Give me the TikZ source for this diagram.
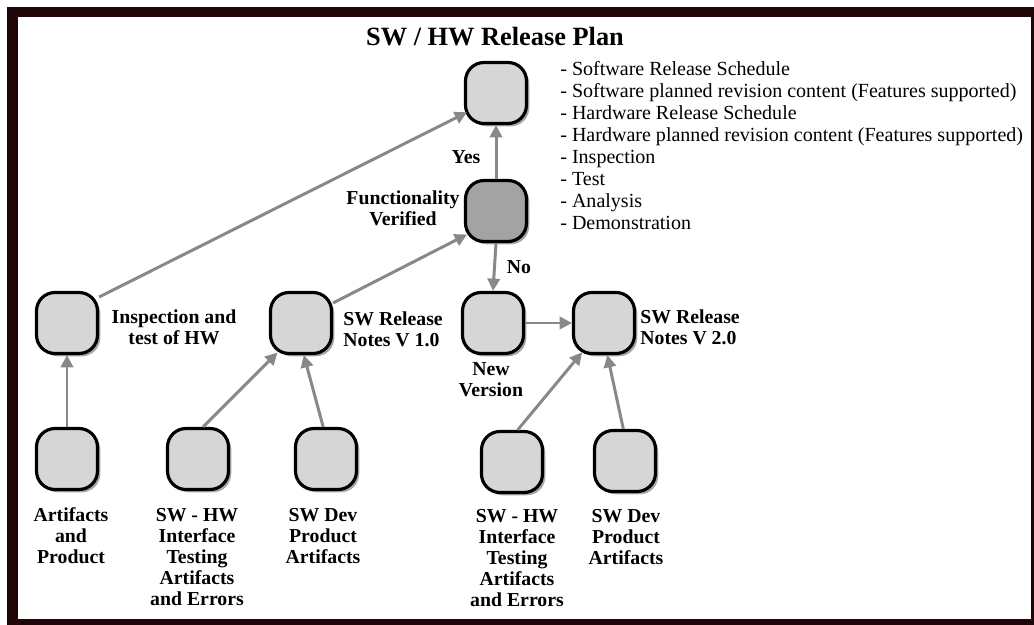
\documentclass[tikz,border=0pt]{standalone}
\usepackage{fontspec}
\setmainfont{Liberation Serif}
\usetikzlibrary{arrows.meta,shadows}
\definecolor{framecol}{HTML}{1E0508}
\definecolor{boxfill}{HTML}{D6D6D6}
\definecolor{boxdark}{HTML}{A3A3A3}
\definecolor{arrowgray}{HTML}{888888}
\tikzset{
  box/.style={draw=black, line width=1.8pt, rounded corners=10.5pt, fill=boxfill,
    minimum width=1.22cm, minimum height=1.22cm, inner sep=0pt,
    drop shadow={shadow xshift=1.6pt, shadow yshift=-1.6pt, fill=black, opacity=0.35}},
  darkbox/.style={box, fill=boxdark},
  lbl/.style={font=\fontsize{11.25}{12}\selectfont\bfseries, align=center, inner sep=0pt},
  lbll/.style={lbl, align=left},
  conn/.style={draw=arrowgray, line width=1.7pt, -{Triangle[length=7pt,width=7pt]}},
  cornerconn/.style={conn, shorten >=-2pt},
  listtext/.style={font=\fontsize{11.4}{12.5}\selectfont, align=left, inner sep=0pt, anchor=north west},
  titletext/.style={font=\fontsize{15}{17}\selectfont\bfseries, inner sep=0pt}
}
\begin{document}
\begin{tikzpicture}[x=0.02cm, y=-0.02cm]
\useasboundingbox (0,0) rectangle (1034,625);
\fill[white] (0,0) rectangle (1034,625);
\fill[framecol] (7,7) rectangle (1034,625);
\fill[white] (18,17) rectangle (1031,619);

% title and list
\node[titletext] (title) at (495,37) {SW / HW Release Plan};
\node[listtext] (list) at (560,61) {- Software Release Schedule\\
- Software planned revision content (Features supported)\\
- Hardware Release Schedule\\
- Hardware planned revision content (Features supported)\\
- Inspection\\
- Test\\
- Analysis\\
- Demonstration};

% boxes
\node[box] (top) at (496,93) {};
\node[darkbox] (func) at (496,211) {};
\node[box] (insp) at (67,323) {};
\node[box] (rel1) at (301,323) {};
\node[box] (newv) at (493,323) {};
\node[box] (rel2) at (604,323) {};
\node[box] (art) at (67,459) {};
\node[box] (sh1) at (198,459) {};
\node[box] (dev1) at (326,459) {};
\node[box] (sh2) at (512,462) {};
\node[box] (dev2) at (625,461) {};

% labels
\node[lbl] (yes) at (466,157) {Yes};
\node[lbl] (funcl) at (403,208) {Functionality\\Verified};
\node[lbl] (no) at (519,267) {No};
\node[lbl] (inspl) at (174,327) {Inspection and\\test of HW};
\node[lbll, anchor=west] (rel1l) at (343,329) {SW Release\\Notes V 1.0};
\node[lbl] (newvl) at (491,380) {New\\Version};
\node[lbll, anchor=west] (rel2l) at (640,327) {SW Release\\Notes V 2.0};
\node[lbl] (artl) at (71,536) {Artifacts\\and\\Product};
\node[lbl] (sh1l) at (197,557) {SW - HW\\Interface\\Testing\\Artifacts\\and Errors};
\node[lbl] (dev1l) at (323,536) {SW Dev\\Product\\Artifacts};
\node[lbl] (sh2l) at (517,558) {SW - HW\\Interface\\Testing\\Artifacts\\and Errors};
\node[lbl] (dev2l) at (626,537) {SW Dev\\Product\\Artifacts};

% connectors
\draw[cornerconn] (insp.39) -- (top.213);
\draw[cornerconn] (rel1.32) -- (func.218);
\draw[conn] (func.north) -- (top.south);
\draw[conn] (func.south) -- (newv.north);
\draw[conn] (art.north) -- (insp.south);
\draw[cornerconn] (sh1.81) -- (rel1.231);
\draw[conn] (dev1.95) -- (rel1.275);
\draw[conn] (newv.east) -- (rel2.west);
\draw[cornerconn] (sh2.80) -- (rel2.233);
\draw[conn] (dev2.93) -- (rel2.276);
\end{tikzpicture}
\end{document}
